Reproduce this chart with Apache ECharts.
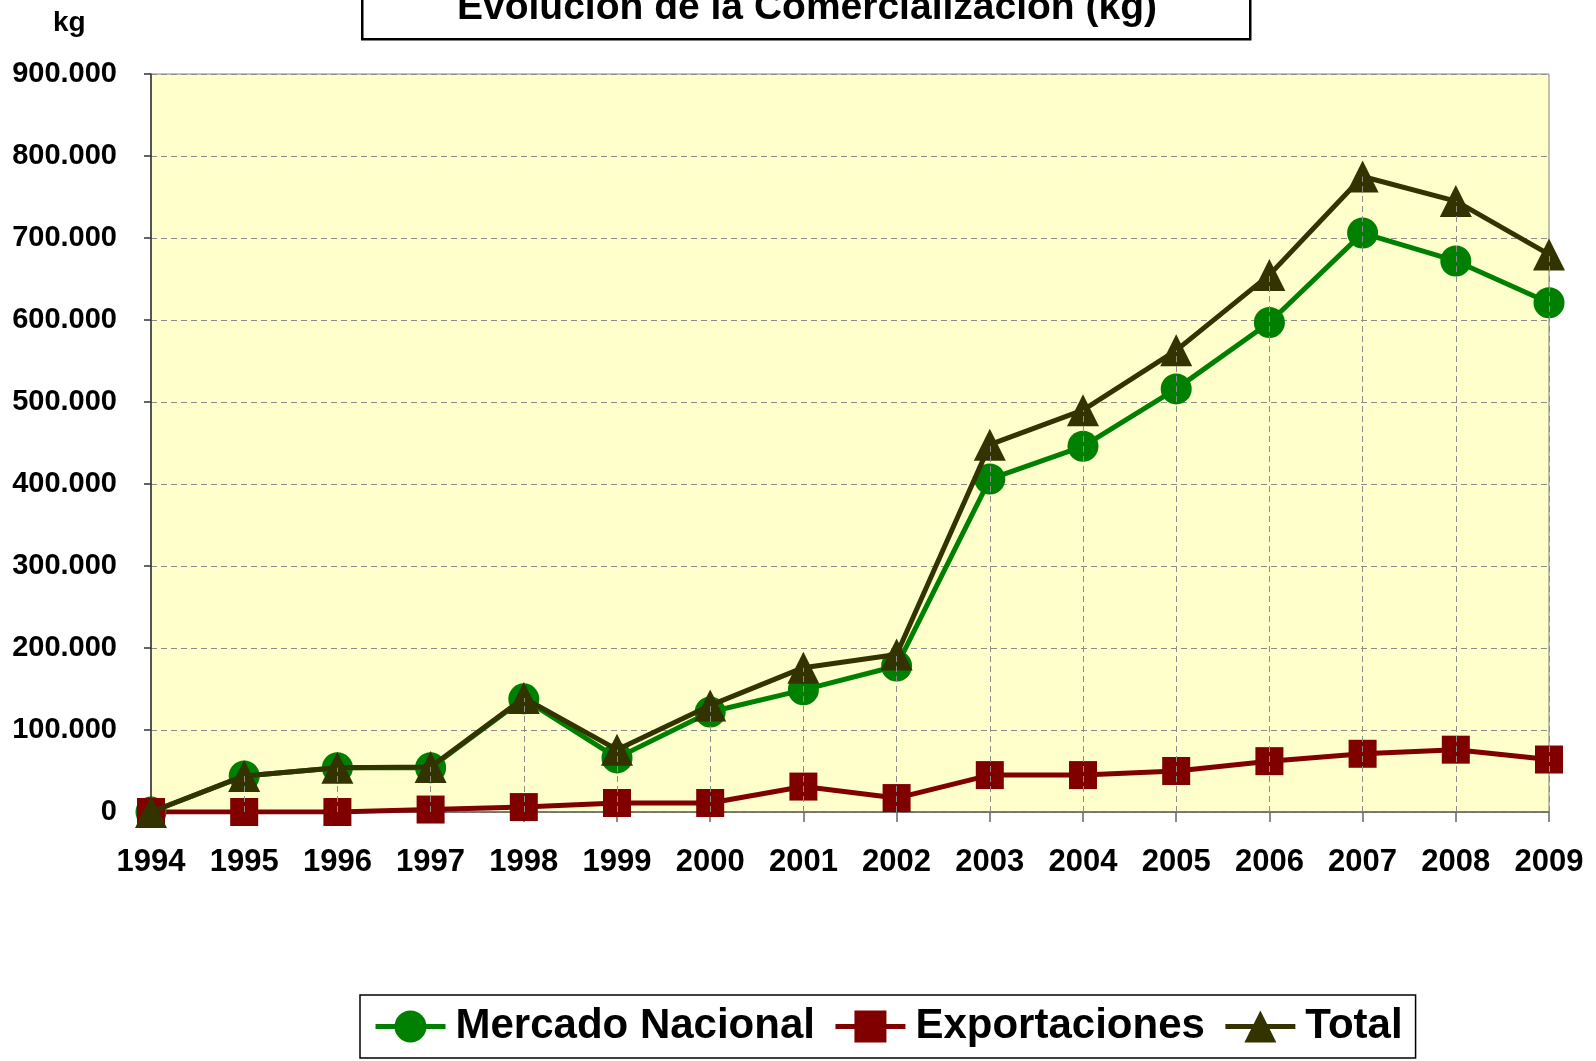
<!DOCTYPE html>
<html>
<head>
<meta charset="utf-8">
<script src="https://cdn.jsdelivr.net/npm/echarts@6/dist/echarts.min.js"></script>
<style>
  html, body { margin: 0; padding: 0; background: #fff; }
  #chart { width: 1596px; height: 1061px; }
</style>
</head>
<body>
<div id="chart"></div>
<script>
var years = ["1994", "1995", "1996", "1997", "1998", "1999", "2000", "2001",
             "2002", "2003", "2004", "2005", "2006", "2007", "2008", "2009"];
var mercadoNacional = [0, 44000, 54000, 54000, 138000, 66000, 122000, 149000,
                       178000, 406000, 446000, 516000, 597000, 706000, 672000, 621000];
var exportaciones = [0, 0, 0, 3000, 6000, 11000, 11000, 31000,
                     17000, 45000, 45000, 50000, 62000, 71000, 76000, 64000];
var total = [0, 44000, 54000, 55000, 139000, 76000, 130000, 176000,
             192000, 448000, 490000, 563000, 655000, 775000, 745000, 680000];

var font = "Liberation Sans";

var chart = echarts.init(document.getElementById("chart"));

chart.setOption({
  animation: false,
  textStyle: { fontFamily: font },
  grid: {
    left: 151, right: 47, top: 74, bottom: 249,
    show: true,
    backgroundColor: "#FFFFCC",
    borderColor: "#808080",
    borderWidth: 1
  },
  graphic: [
    {
      type: "rect",
      left: 361, top: -12,
      shape: { width: 888, height: 50 },
      style: { fill: "#fff", stroke: "#000", lineWidth: 2.5 }
    },
    {
      type: "text",
      x: 807, y: 8,
      style: {
        text: "Evolución de la Comercialización (kg)",
        font: "bold 39px " + font,
        fill: "#000",
        align: "center",
        verticalAlign: "middle"
      }
    },
    {
      type: "text",
      x: 53, y: 23,
      style: {
        text: "kg",
        font: "bold 28px " + font,
        fill: "#000",
        align: "left",
        verticalAlign: "middle"
      }
    }
  ],
  legend: {
    data: ["Mercado Nacional", "Exportaciones", "Total"],
    left: 360, top: 995,
    padding: [4, 13, 4, 13],
    itemGap: 18,
    itemWidth: 70,
    itemHeight: 40,
    borderColor: "#000",
    borderWidth: 1.5,
    backgroundColor: "#fff",
    lineStyle: { width: 5 },
    textStyle: {
      fontFamily: font,
      fontWeight: "bold",
      fontSize: 42,
      lineHeight: 43,
      color: "#000",
      padding: [12, 0, 0, 5]
    }
  },
  xAxis: {
    type: "category",
    data: years,
    boundaryGap: false,
    axisLine: { lineStyle: { color: "#666", width: 1.5 } },
    axisTick: { show: true, length: 10, lineStyle: { color: "#666", width: 1.5 } },
    axisLabel: {
      margin: 35,
      fontFamily: font,
      fontWeight: "bold",
      fontSize: 31,
      color: "#000"
    },
    splitLine: { show: false }
  },
  yAxis: {
    type: "value",
    min: 0,
    max: 900000,
    interval: 100000,
    axisLine: { show: true, lineStyle: { color: "#333", width: 1.5 } },
    axisTick: { show: true, length: 7, lineStyle: { color: "#333", width: 1.5 } },
    axisLabel: {
      margin: 34,
      fontFamily: font,
      fontWeight: "bold",
      fontSize: 29,
      color: "#000",
      formatter: function (v) {
        return v.toString().replace(/\B(?=(\d{3})+(?!\d))/g, ".");
      }
    },
    splitLine: {
      show: true,
      lineStyle: { color: "#8c8c8c", type: [6, 4], width: 1 }
    }
  },
  series: [
    {
      // drop lines, Excel style
      name: "drop",
      type: "line",
      data: total,
      symbol: "none",
      silent: true,
      z: 1,
      lineStyle: { opacity: 0 },
      markLine: {
        silent: true,
        symbol: "none",
        label: { show: false },
        lineStyle: { color: "#8c8c8c", type: [6, 4], width: 1 },
        data: total.map(function (v, i) {
          return [{ coord: [years[i], 0] }, { coord: [years[i], v] }];
        })
      }
    },
    {
      name: "Mercado Nacional",
      type: "line",
      data: mercadoNacional,
      z: 3,
      symbol: "circle",
      symbolSize: 31,
      color: "#008000",
      lineStyle: { color: "#008000", width: 5 },
      itemStyle: { color: "#008000" }
    },
    {
      name: "Exportaciones",
      type: "line",
      data: exportaciones,
      z: 3,
      symbol: "rect",
      symbolSize: 28,
      color: "#800000",
      lineStyle: { color: "#800000", width: 5 },
      itemStyle: { color: "#800000" }
    },
    {
      name: "Total",
      type: "line",
      data: total,
      z: 4,
      symbol: "triangle",
      symbolSize: 32,
      color: "#333300",
      lineStyle: { color: "#333300", width: 5 },
      itemStyle: { color: "#333300" }
    }
  ]
});
</script>
</body>
</html>
